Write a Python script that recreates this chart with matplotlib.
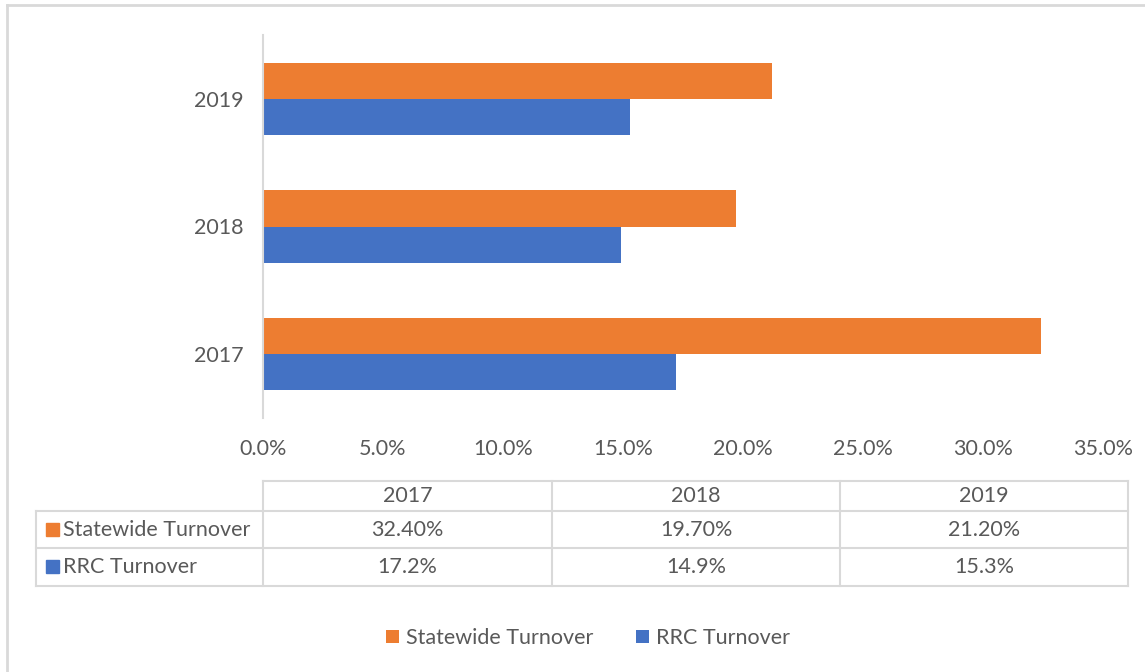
import matplotlib.pyplot as plt
from matplotlib.lines import Line2D
from matplotlib.ticker import FuncFormatter

years = ['2017', '2018', '2019']
statewide = [32.4, 19.7, 21.2]
rrc = [17.2, 14.9, 15.3]
series_names = ['Statewide Turnover', 'RRC Turnover']

orange = '#ED7D31'
blue = '#4472C4'
grid = '#D9D9D9'
txt = '#595959'
fs = 15.5

plt.rcParams['font.family'] = ['Lato', 'DejaVu Sans']

W, H = 1145, 672
fig = plt.figure(figsize=(W / 100, H / 100), dpi=100)


def fx(px):
    return px / W


def fy(py):
    return 1 - py / H


ax = fig.add_axes([fx(263), fy(418), fx(1103) - fx(263), fy(35) - fy(418)])

pos = list(range(len(years)))
h = 0.282
b1 = ax.barh([p + h / 2 for p in pos], statewide, height=h, color=orange, label=series_names[0])
b2 = ax.barh([p - h / 2 for p in pos], rrc, height=h, color=blue, label=series_names[1])

ax.set_xlim(0, 35)
ax.set_ylim(-0.5, 2.5)
ax.set_xticks(range(0, 36, 5))
ax.xaxis.set_major_formatter(FuncFormatter(lambda v, p: f'{v:.1f}%'))
ax.set_yticks(pos)
ax.set_yticklabels(years)
for s in ['top', 'right', 'bottom']:
    ax.spines[s].set_visible(False)
ax.spines['left'].set_color(grid)
ax.spines['left'].set_linewidth(1.5)
ax.tick_params(axis='both', length=0, labelsize=fs, colors=txt)
ax.tick_params(axis='y', pad=14)
ax.tick_params(axis='x', pad=15)


# data table under the chart
def hline(y, x0, x1):
    fig.add_artist(Line2D([fx(x0), fx(x1)], [fy(y), fy(y)], color=grid, lw=1.5))


def vline(x, y0, y1):
    fig.add_artist(Line2D([fx(x), fx(x)], [fy(y0), fy(y1)], color=grid, lw=1.5))


rows_y = [481, 511, 548, 586]
cols_x = [263, 552, 840, 1128]
hline(rows_y[0], cols_x[0], cols_x[-1])
for y in rows_y[1:]:
    hline(y, 36, cols_x[-1])
vline(36, rows_y[1], rows_y[-1])
for x in cols_x:
    vline(x, rows_y[0], rows_y[-1])

cell_fmt = [lambda v: f'{v:.2f}%', lambda v: f'{v:.1f}%']
row_vals = [statewide, rrc]
row_cols = [orange, blue]
for i, yr in enumerate(years):
    xc = (cols_x[i] + cols_x[i + 1]) / 2
    fig.text(fx(xc), fy((rows_y[0] + rows_y[1]) / 2), yr, ha='center', va='center',
             fontsize=fs, color=txt)
    for r in range(2):
        yc = (rows_y[r + 1] + rows_y[r + 2]) / 2
        fig.text(fx(xc), fy(yc), cell_fmt[r](row_vals[r][i]), ha='center', va='center',
                 fontsize=fs, color=txt)
for r in range(2):
    yc = (rows_y[r + 1] + rows_y[r + 2]) / 2
    fig.add_artist(plt.Rectangle((fx(46), fy(yc + 6)), fx(13), fy(0) - fy(13),
                                 color=row_cols[r]))
    fig.text(fx(63), fy(yc), series_names[r], ha='left', va='center', fontsize=fs, color=txt)

# outer chart frame (left and top edges visible)
fig.add_artist(Line2D([fx(7), fx(7)], [fy(5), 0], color=grid, lw=2))
fig.add_artist(Line2D([fx(7), 1], [fy(5), fy(5)], color=grid, lw=2))

fig.legend(handles=[b1, b2], loc='center', bbox_to_anchor=(fx(588), fy(638)), ncol=2,
           frameon=False, fontsize=fs, handlelength=0.6, handleheight=0.6,
           handletextpad=0.3, columnspacing=2.0, labelcolor=txt)

plt.savefig('out.png', dpi=100)
